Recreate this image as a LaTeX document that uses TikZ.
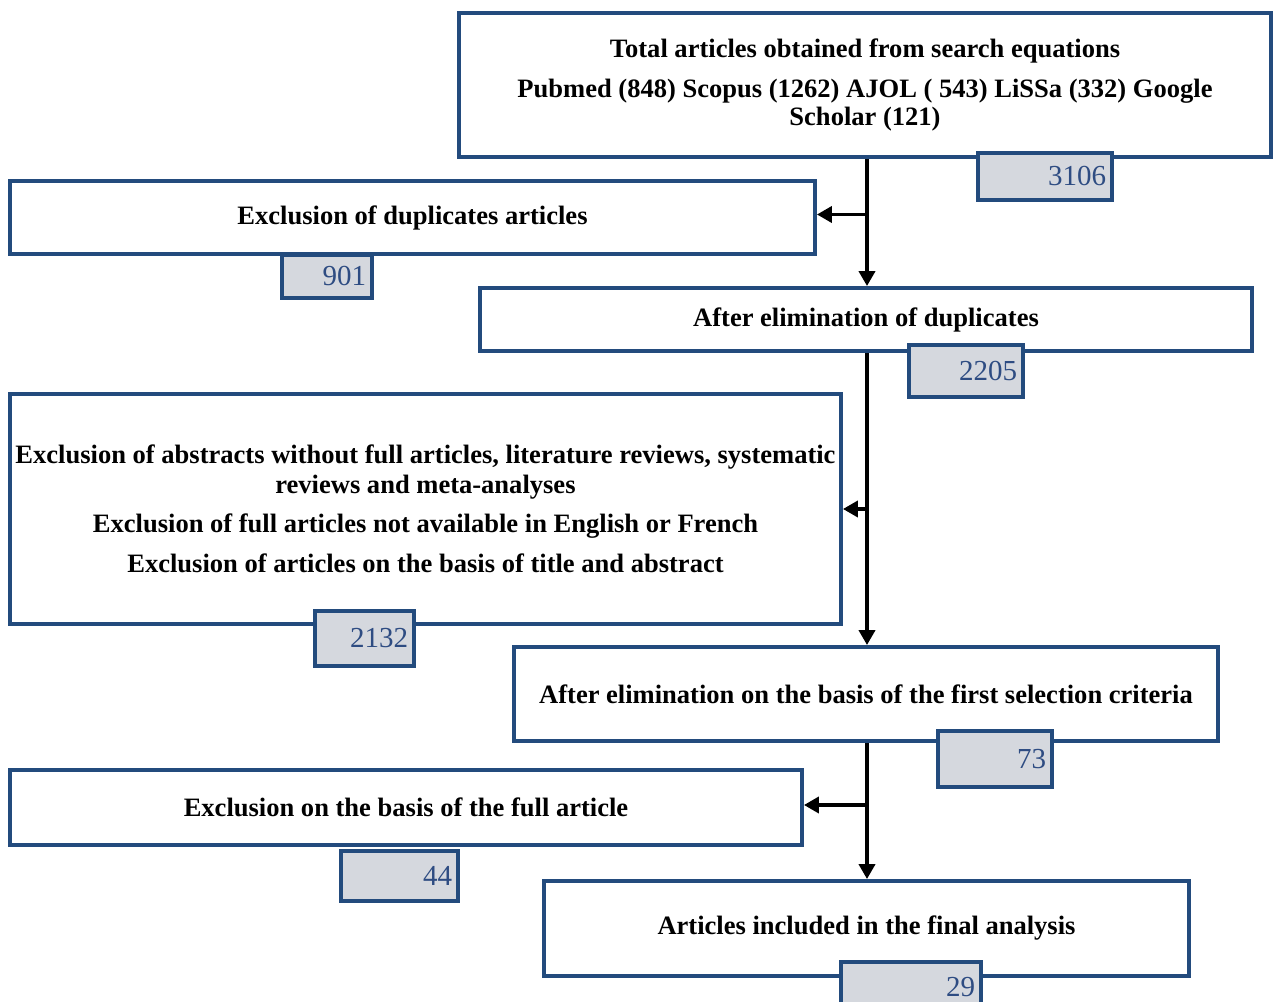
\documentclass[tikz,border=0pt]{standalone}
\usepackage{fontspec}
\setmainfont{Liberation Serif}
\usetikzlibrary{arrows.meta}

\definecolor{boxblue}{HTML}{234B7D}
\definecolor{numfill}{HTML}{D5D8DE}
\definecolor{numtext}{HTML}{2E4C82}

\begin{document}
\begin{tikzpicture}[
	stage/.style = {draw = boxblue, line width = 2.2pt, fill = white, align = center,
		font = \fontsize{15.1}{17.5}\selectfont\bfseries, inner sep = 0pt},
	count/.style = {draw = boxblue, line width = 2.6pt, fill = numfill, align = right,
		text = numtext, font = \fontsize{16.5}{18}\selectfont, inner xsep = 0.12cm, inner ysep = 0pt},
	flow/.style = {line width = 2.2pt, -{Triangle[length = 0.3cm, width = 0.32cm]}}
]

	\useasboundingbox (0,0) rectangle (25.46,20.02);

	\node[stage, minimum width = 16.24cm, minimum height = 2.88cm] (total) at (17.30,18.32)
		{Total articles obtained from search equations\\[0.18cm]
		Pubmed (848) Scopus (1262) AJOL ( 543) LiSSa (332) Google\\[-0.04cm]
		Scholar (121)};
	\node[count, minimum height = 0.94cm, text width = 2.44cm] (n1) at (20.90,16.49) {3106};

	\node[stage, minimum width = 16.10cm, minimum height = 1.46cm] (dup) at (8.25,15.67)
		{Exclusion of duplicates articles};
	\node[count, minimum height = 0.86cm, text width = 1.56cm] (n2) at (6.54,14.49) {901};

	\node[stage, minimum width = 15.44cm, minimum height = 1.26cm] (afterdup) at (17.32,13.63)
		{After elimination of duplicates};
	\node[count, minimum height = 1.04cm, text width = 2.04cm] (n3) at (19.32,12.60) {2205};

	\node[stage, minimum width = 16.62cm, minimum height = 4.60cm] (abs) at (8.51,9.84)
		{Exclusion of abstracts without full articles, literature reviews, systematic\\[-0.02cm]
		reviews and meta-analyses\\[0.16cm]
		Exclusion of full articles not available in English or French\\[0.2cm]
		Exclusion of articles on the basis of title and abstract};
	\node[count, minimum height = 1.10cm, text width = 1.74cm] (n4) at (7.29,7.25) {2132};

	\node[stage, minimum width = 14.08cm, minimum height = 1.88cm] (first) at (17.32,6.14)
		{After elimination on the basis of the first selection criteria};
	\node[count, minimum height = 1.12cm, text width = 2.04cm] (n5) at (19.90,4.84) {73};

	\node[stage, minimum width = 15.84cm, minimum height = 1.50cm] (full) at (8.12,3.87)
		{Exclusion on the basis of the full article};
	\node[count, minimum height = 1.00cm, text width = 2.10cm] (n6) at (7.99,2.50) {44};

	\node[stage, minimum width = 12.90cm, minimum height = 1.90cm] (final) at (17.33,1.45)
		{Articles included in the final analysis};
	\node[count, minimum height = 1.00cm, text width = 2.56cm] (n7) at (18.22,0.28) {29};

	\coordinate (s1) at (17.34,15.73);
	\coordinate (s2) at (17.34,9.84);
	\coordinate (s3) at (17.34,3.92);

	\draw[flow] (total.south -| s1) -- (afterdup.north -| s1);
	\draw[flow] (s1) -- (s1 -| dup.east);
	\draw[flow] (afterdup.south -| s2) -- (first.north -| s2);
	\draw[flow] (s2) -- (s2 -| abs.east);
	\draw[flow] (first.south -| s3) -- (final.north -| s3);
	\draw[flow] (s3) -- (s3 -| full.east);

\end{tikzpicture}
\end{document}
